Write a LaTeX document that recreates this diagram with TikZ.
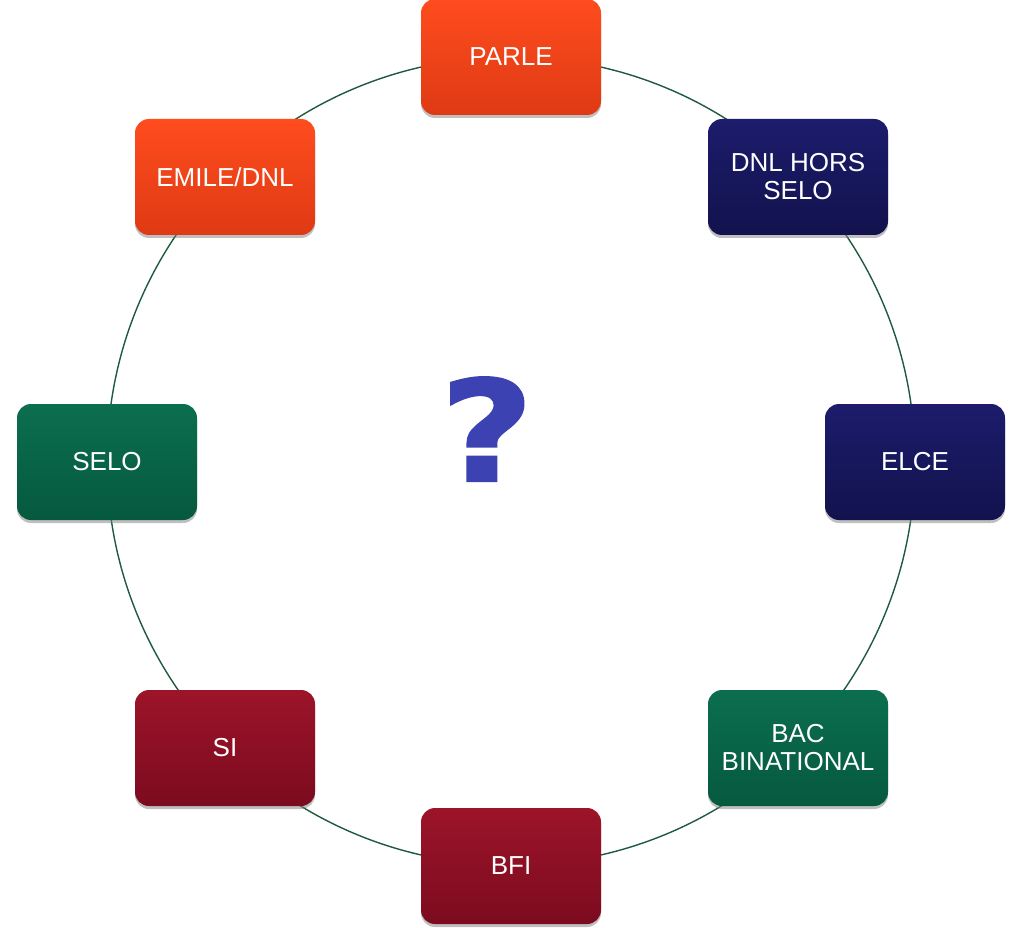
\documentclass[tikz,border=0pt]{standalone}
\usepackage{fontspec}
\setmainfont{Liberation Sans}
\newfontfamily\qfont[BoldFeatures={FakeBold=1.5}]{DejaVu Sans}
\usetikzlibrary{shadows}
\definecolor{ringc}{HTML}{1E5A3E}
\definecolor{orT}{HTML}{FF4C1E}
\definecolor{orB}{HTML}{DE3A14}
\definecolor{nvT}{HTML}{1C1C6C}
\definecolor{nvB}{HTML}{12124E}
\definecolor{grT}{HTML}{0B6E4F}
\definecolor{grB}{HTML}{06593F}
\definecolor{rdT}{HTML}{9C1429}
\definecolor{rdB}{HTML}{7C0B1F}
\definecolor{qblue}{HTML}{3C42B2}
\tikzset{
  boxb/.style={rounded corners=14pt, minimum width=180pt, minimum height=116pt,
    text=white, align=center, font=\fontsize{26}{28}\selectfont, inner sep=0pt,
    drop shadow={opacity=0.5, shadow xshift=0pt, shadow yshift=-3pt}},
  orbox/.style={boxb, top color=orT, bottom color=orB},
  nvbox/.style={boxb, top color=nvT, bottom color=nvB},
  grbox/.style={boxb, top color=grT, bottom color=grB},
  rdbox/.style={boxb, top color=rdT, bottom color=rdB},
  ring/.style={draw=ringc, line width=1.4pt}
}
\begin{document}
\begin{tikzpicture}[x=1pt,y=-1pt]
\useasboundingbox (0,0) rectangle (1012,928);
\coordinate (c) at (511,461);
\draw[ring] (c) circle[radius=404];
\node[orbox] (parle) at (511,57) {PARLE};
\node[orbox] (emile) at (225,177) {EMILE/DNL};
\node[nvbox] (dnl) at (798,177) {DNL HORS\\SELO};
\node[grbox] (selo) at (107,462) {SELO};
\node[nvbox] (elce) at (915,462) {ELCE};
\node[rdbox] (si) at (225,748) {SI};
\node[grbox] (bac) at (798,748) {BAC\\BINATIONAL};
\node[rdbox] (bfi) at (511,866) {BFI};
\node[inner sep=0pt, anchor=base, xscale=1.15, text=qblue] (q) at (487,481)
  {\qfont\bfseries\fontsize{140}{140}\selectfont ?};
\end{tikzpicture}
\end{document}
